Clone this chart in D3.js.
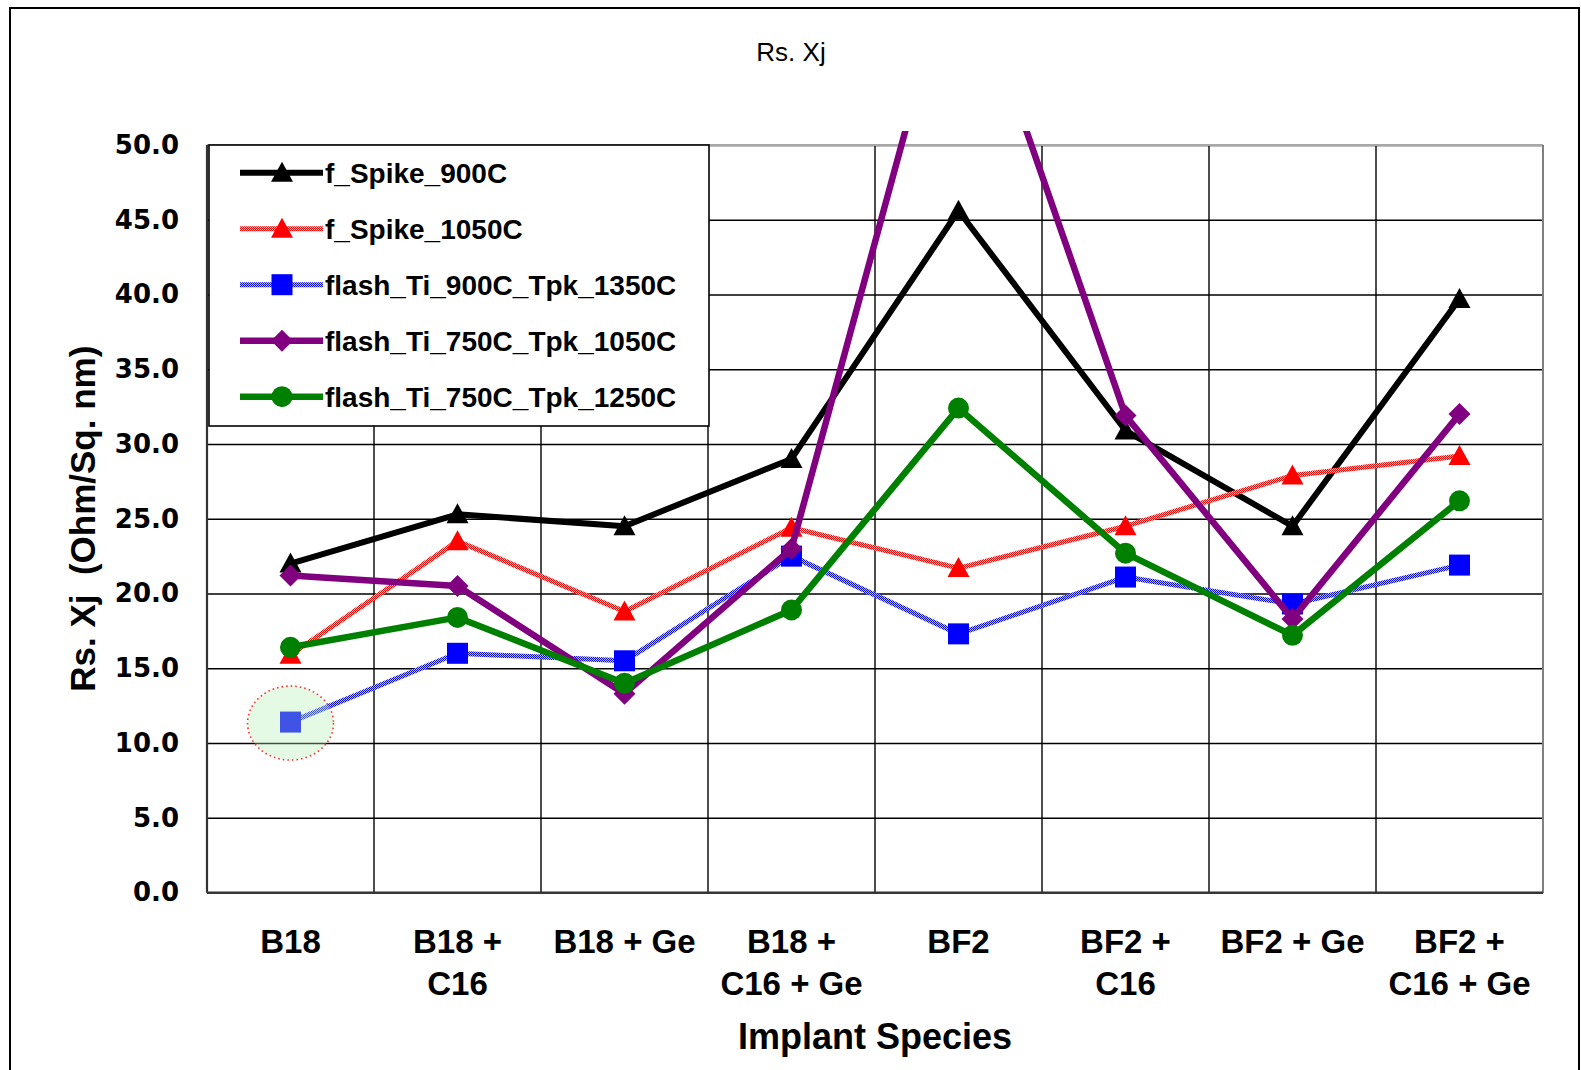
<!DOCTYPE html>
<html>
<head>
<meta charset="utf-8">
<script src="https://cdn.jsdelivr.net/npm/d3@7"></script>
<style>
  html, body { margin: 0; padding: 0; background: #fff; }
  svg { display: block; }
</style>
</head>
<body>
<div id="chart"></div>
<script>
// Implant species along the x axis (each entry holds the lines of its label)
const categories = [
  ["B18"],
  ["B18 +", "C16"],
  ["B18 + Ge"],
  ["B18 +", "C16 + Ge"],
  ["BF2"],
  ["BF2 +", "C16"],
  ["BF2 + Ge"],
  ["BF2 +", "C16 + Ge"]
];
const categoryKeys = categories.map(d => d.join(" "));

// Rs.Xj values (Ohm/Sq. nm) per anneal condition
const spike900C      = [22.0, 25.3, 24.5, 29.0, 45.6, 30.9, 24.5, 39.7];
const spike1050C     = [15.9, 23.5, 18.8, 24.4, 21.7, 24.5, 27.9, 29.2];
const flash900_1350  = [11.4, 16.0, 15.5, 22.5, 17.3, 21.1, 19.3, 21.9];
const flash750_1050  = [21.2, 20.5, 13.3, 23.0, 64.0, 31.9, 18.3, 32.0];
const flash750_1250  = [16.4, 18.4, 14.0, 18.9, 32.4, 22.7, 17.2, 26.2];

const seriesNames = [
  "f_Spike_900C",
  "f_Spike_1050C",
  "flash_Ti_900C_Tpk_1350C",
  "flash_Ti_750C_Tpk_1050C",
  "flash_Ti_750C_Tpk_1250C"
];
const yTicks = [0, 5, 10, 15, 20, 25, 30, 35, 40, 45, 50];

const series = [
  { name: seriesNames[0], values: spike900C,     stroke: "#000000",          width: 6,   marker: "triangle", fill: "#000000" },
  { name: seriesNames[1], values: spike1050C,    stroke: "url(#meshRed)",    width: 5,   marker: "triangle", fill: "#ff0000" },
  { name: seriesNames[2], values: flash900_1350, stroke: "url(#meshBlue)",   width: 5,   marker: "square",   fill: "#0000ff" },
  { name: seriesNames[3], values: flash750_1050, stroke: "#800080",          width: 6.5, marker: "diamond",  fill: "#800080" },
  { name: seriesNames[4], values: flash750_1250, stroke: "#008000",          width: 6.5, marker: "circle",   fill: "#008000" }
];

const W = 1581, H = 1070;
const plot = { left: 207, right: 1543, top: 145, bottom: 892.5 };

const svg = d3.select("#chart").append("svg")
  .attr("width", W).attr("height", H);

const defs = svg.append("defs");
function mesh(id, color, bg) {
  const p = defs.append("pattern").attr("id", id)
    .attr("patternUnits", "userSpaceOnUse").attr("width", 2).attr("height", 2);
  p.append("rect").attr("width", 2).attr("height", 2).attr("fill", bg);
  p.append("rect").attr("width", 1).attr("height", 1).attr("fill", color);
  p.append("rect").attr("x", 1).attr("y", 1).attr("width", 1).attr("height", 1).attr("fill", color);
}
mesh("meshRed", "#ff0000", "#ffc8c8");
mesh("meshBlue", "#0000ff", "#c8c8ff");

defs.append("clipPath").attr("id", "plotClip").append("rect")
  .attr("x", plot.left).attr("y", 131)
  .attr("width", plot.right - plot.left).attr("height", plot.bottom - 131);

svg.append("rect").attr("width", W).attr("height", H).attr("fill", "#fff");

// outer chart frame
svg.append("rect")
  .attr("x", 10).attr("y", 8).attr("width", 1569).attr("height", H + 10)
  .attr("fill", "none").attr("stroke", "#000").attr("stroke-width", 2);

const x = d3.scaleBand().domain(categoryKeys).range([plot.left, plot.right]).padding(0);
const y = d3.scaleLinear().domain([0, 50]).range([plot.bottom, plot.top]);
const cx = k => x(k) + x.bandwidth() / 2;

// horizontal gridlines + y tick labels
const yAxis = svg.append("g")
  .attr("transform", `translate(${plot.left},0)`)
  .call(d3.axisLeft(y).tickValues(yTicks).tickFormat(d3.format(".1f"))
    .tickSize(-(plot.right - plot.left)).tickPadding(28));
yAxis.select(".domain").remove();
yAxis.selectAll(".tick line").attr("stroke", "#000").attr("stroke-width", 1.4);
yAxis.selectAll(".tick text")
  .attr("font-family", "'DejaVu Sans', Verdana, sans-serif")
  .attr("font-weight", "bold").attr("font-size", 26).attr("fill", "#000");

// vertical gridlines at category boundaries
const bounds = categoryKeys.map(k => x(k)).concat([x.range()[1]]);
svg.append("g").selectAll("line").data(bounds).join("line")
  .attr("x1", d => d).attr("x2", d => d)
  .attr("y1", plot.top).attr("y2", plot.bottom)
  .attr("stroke", "#000").attr("stroke-width", 1.4);

// plot frame
svg.append("line").attr("x1", plot.left).attr("x2", plot.right)
  .attr("y1", plot.top).attr("y2", plot.top).attr("stroke", "#a8a8a8").attr("stroke-width", 2);
svg.append("line").attr("x1", plot.right).attr("x2", plot.right)
  .attr("y1", plot.top).attr("y2", plot.bottom).attr("stroke", "#808080").attr("stroke-width", 2);
svg.append("line").attr("x1", plot.left).attr("x2", plot.right)
  .attr("y1", plot.bottom).attr("y2", plot.bottom).attr("stroke", "#333").attr("stroke-width", 2.2);
svg.append("line").attr("x1", plot.left).attr("x2", plot.left)
  .attr("y1", plot.top).attr("y2", plot.bottom).attr("stroke", "#333").attr("stroke-width", 2.2);

// x axis category labels
const xAxis = svg.append("g")
  .attr("transform", `translate(0,${plot.bottom})`)
  .call(d3.axisBottom(x).tickSize(0).tickFormat(""));
xAxis.select(".domain").remove();
xAxis.selectAll(".tick").each(function (k, i) {
  const t = d3.select(this).append("text")
    .attr("font-family", "'Liberation Sans', Arial, sans-serif")
    .attr("font-weight", "bold").attr("font-size", 33)
    .attr("fill", "#000").attr("text-anchor", "middle");
  categories[i].forEach((line, j) => {
    t.append("tspan").attr("x", 0).attr("y", 60 + j * 42.5).text(line);
  });
});

// axis titles
svg.append("text")
  .attr("x", (plot.left + plot.right) / 2).attr("y", 1049)
  .attr("text-anchor", "middle")
  .attr("font-family", "'Liberation Sans', Arial, sans-serif")
  .attr("font-weight", "bold").attr("font-size", 36)
  .text("Implant Species");

svg.append("text")
  .attr("transform", `translate(95,${(plot.top + plot.bottom) / 2}) rotate(-90)`)
  .attr("text-anchor", "middle")
  .style("white-space", "pre")
  .attr("font-family", "'Liberation Sans', Arial, sans-serif")
  .attr("font-weight", "bold").attr("font-size", 35)
  .text("Rs. Xj  (Ohm/Sq. nm)");

svg.append("text")
  .attr("x", 791).attr("y", 61)
  .attr("text-anchor", "middle")
  .attr("font-family", "'Liberation Sans', Arial, sans-serif")
  .attr("font-size", 26)
  .text("Rs. Xj");

// marker shapes
function drawMarker(g, type, px, py, fill) {
  if (type === "triangle") {
    g.append("path").attr("d", `M${px},${py - 11}L${px + 11},${py + 9}L${px - 11},${py + 9}Z`).attr("fill", fill);
  } else if (type === "square") {
    g.append("rect").attr("x", px - 10.5).attr("y", py - 10.5).attr("width", 21).attr("height", 21).attr("fill", fill);
  } else if (type === "diamond") {
    g.append("path").attr("d", `M${px},${py - 11}L${px + 11},${py}L${px},${py + 11}L${px - 11},${py}Z`).attr("fill", fill);
  } else {
    g.append("circle").attr("cx", px).attr("cy", py).attr("r", 10.5).attr("fill", fill);
  }
}

const line = d3.line().x((d, i) => cx(categoryKeys[i])).y(d => y(d));
const dataLayer = svg.append("g").attr("clip-path", "url(#plotClip)");
series.forEach(s => {
  const g = dataLayer.append("g");
  g.append("path").datum(s.values).attr("d", line)
    .attr("fill", "none").attr("stroke", s.stroke).attr("stroke-width", s.width)
    .attr("stroke-linejoin", "round");
  s.values.forEach((v, i) => {
    if (v <= 50) drawMarker(g, s.marker, cx(categoryKeys[i]), y(v), s.fill);
  });
});

// highlight around the lowest B18 reading
svg.append("ellipse")
  .attr("cx", cx(categoryKeys[0])).attr("cy", y(flash900_1350[0]) + 1)
  .attr("rx", 43).attr("ry", 37)
  .attr("fill", "#b4f0b4").attr("fill-opacity", 0.35)
  .attr("stroke", "#ff3030").attr("stroke-width", 1.6)
  .attr("stroke-dasharray", "1.6,3");

// legend
const leg = svg.append("g");
leg.append("rect")
  .attr("x", 209).attr("y", 145).attr("width", 500).attr("height", 281)
  .attr("fill", "#fff").attr("stroke", "#000").attr("stroke-width", 1.6);
series.forEach((s, i) => {
  const ly = 172.7 + i * 56;
  const g = leg.append("g");
  g.append("line").attr("x1", 240).attr("x2", 323).attr("y1", ly).attr("y2", ly)
    .attr("stroke", s.stroke).attr("stroke-width", s.width);
  drawMarker(g, s.marker, 282, ly, s.fill);
  g.append("text").attr("x", 325).attr("y", ly + 10)
    .attr("font-family", "'Liberation Sans', Arial, sans-serif")
    .attr("font-weight", "bold").attr("font-size", 28)
    .text(s.name);
});
</script>
</body>
</html>
